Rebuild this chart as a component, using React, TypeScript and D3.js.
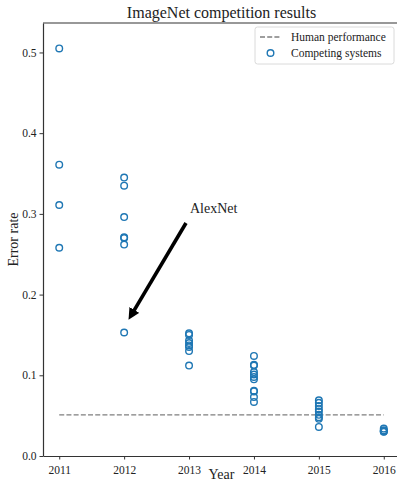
import React, { useRef, useEffect } from 'react';
import * as d3 from 'd3';

// error rates per ILSVRC year
const years = [2011, 2012, 2013, 2014, 2015, 2016];
const results2011 = [0.505, 0.361, 0.311, 0.258];
const results2012 = [0.345, 0.335, 0.296, 0.271, 0.270, 0.262, 0.153];
const results2013 = [0.152, 0.150, 0.143, 0.140, 0.137, 0.135, 0.130, 0.112];
const results2014 = [0.124, 0.113, 0.112, 0.104, 0.101, 0.098, 0.095, 0.081, 0.080, 0.073, 0.067];
const results2015 = [0.069, 0.066, 0.062, 0.058, 0.055, 0.051, 0.048, 0.046, 0.036];
const results2016 = [0.034, 0.032, 0.031, 0.0305, 0.030];
const humanError = 0.051;
const yTicks = [0.0, 0.1, 0.2, 0.3, 0.4, 0.5];
const alexNet = { year: 2012, value: 0.153 };

export default function App() {
  const svgRef = useRef<SVGSVGElement>(null);

  useEffect(() => {
    const width = 397;
    const height = 483;
    const marginTop = 23;
    const marginBottom = 27;
    const marginLeft = 43;
    const font = "Liberation Serif, serif";

    const points = [results2011, results2012, results2013, results2014, results2015, results2016]
      .flatMap((vals, i) => vals.map(v => ({ year: years[i], value: v })));

    const x = d3.scaleLinear()
      .domain([2010.75, 2016.25])
      .range([marginLeft, 400]);

    const y = d3.scaleLinear()
      .domain([0, 0.5365])
      .range([height - marginBottom, marginTop]);

    const svg = d3.select(svgRef.current)
      .attr('width', width)
      .attr('height', height)
      .attr('font-family', font)
      .style('display', 'block');
    svg.selectAll('*').remove();

    // human performance line
    svg.append('line')
      .attr('x1', x(years[0]))
      .attr('x2', x(years[years.length - 1]))
      .attr('y1', y(humanError))
      .attr('y2', y(humanError))
      .attr('stroke', '#7f7f7f')
      .attr('stroke-width', 1.3)
      .attr('stroke-dasharray', '5,2.2');

    // competing systems
    svg.append('g')
      .selectAll('circle')
      .data(points)
      .join('circle')
        .attr('cx', d => x(d.year))
        .attr('cy', d => y(d.value))
        .attr('r', 3.3)
        .attr('fill', 'none')
        .attr('stroke', '#1f77b4')
        .attr('stroke-width', 1.4);

    // axes
    const xAxis = svg.append('g')
      .attr('transform', `translate(0,${height - marginBottom})`)
      .call(d3.axisBottom(x).tickValues(years).tickFormat(d3.format('d')).tickSize(3.5).tickSizeOuter(0));
    const yAxis = svg.append('g')
      .attr('transform', `translate(${marginLeft},0)`)
      .call(d3.axisLeft(y).tickValues(yTicks).tickFormat(d3.format('.1f')).tickSize(3.5).tickSizeOuter(0));

    for (const g of [xAxis, yAxis]) {
      g.attr('font-family', font).attr('font-size', 11.5);
      g.select('.domain').attr('stroke', '#333').attr('stroke-width', 1.2);
      g.selectAll('.tick line').attr('stroke', '#333');
      g.selectAll('.tick text').attr('fill', '#222');
    }
    xAxis.selectAll('.tick text').attr('dy', '1em');

    // top spine
    svg.append('line')
      .attr('x1', marginLeft).attr('x2', 400)
      .attr('y1', marginTop).attr('y2', marginTop)
      .attr('stroke', '#333').attr('stroke-width', 1.2);

    // title + labels
    svg.append('text')
      .attr('x', (marginLeft + 400) / 2)
      .attr('y', 18)
      .attr('text-anchor', 'middle')
      .attr('font-size', 16)
      .attr('fill', '#222')
      .text('ImageNet competition results');

    svg.append('text')
      .attr('x', (marginLeft + 400) / 2)
      .attr('y', 479)
      .attr('text-anchor', 'middle')
      .attr('font-size', 14)
      .attr('fill', '#222')
      .text('Year');

    svg.append('text')
      .attr('transform', `translate(18,${(marginTop + height - marginBottom) / 2}) rotate(-90)`)
      .attr('text-anchor', 'middle')
      .attr('font-size', 14)
      .attr('fill', '#222')
      .text('Error rate');

    // AlexNet annotation
    svg.append('defs').append('marker')
      .attr('id', 'head')
      .attr('viewBox', '0 0 10 10')
      .attr('refX', 2)
      .attr('refY', 5)
      .attr('markerWidth', 3.2)
      .attr('markerHeight', 3.2)
      .attr('orient', 'auto')
      .append('path')
        .attr('d', 'M0,0 L10,5 L0,10 Z')
        .attr('fill', '#000');

    const tipX = x(alexNet.year) + 4;
    const tipY = y(alexNet.value) - 12;
    const dx = tipX - 186, dy = tipY - 223;
    const len = Math.hypot(dx, dy);
    svg.append('line')
      .attr('x1', 186).attr('y1', 223)
      .attr('x2', tipX - dx / len * 10).attr('y2', tipY - dy / len * 10)
      .attr('stroke', '#000')
      .attr('stroke-width', 3.6)
      .attr('marker-end', 'url(#head)');

    svg.append('text')
      .attr('x', 190)
      .attr('y', 213)
      .attr('font-size', 14)
      .attr('fill', '#222')
      .text('AlexNet');

    // legend
    const lg = svg.append('g').attr('transform', 'translate(255,27)');
    lg.append('rect')
      .attr('width', 139).attr('height', 37).attr('rx', 2.5)
      .attr('fill', 'white').attr('fill-opacity', 0.8)
      .attr('stroke', '#d0d0d0').attr('stroke-width', 0.8);
    lg.append('line')
      .attr('x1', 5).attr('x2', 26).attr('y1', 10).attr('y2', 10)
      .attr('stroke', '#7f7f7f').attr('stroke-width', 1.3)
      .attr('stroke-dasharray', '5,2.2');
    lg.append('circle')
      .attr('cx', 15.5).attr('cy', 26).attr('r', 3.3)
      .attr('fill', 'none').attr('stroke', '#1f77b4').attr('stroke-width', 1.4);
    lg.selectAll('text.lbl')
      .data(['Human performance', 'Competing systems'])
      .join('text')
        .attr('class', 'lbl')
        .attr('x', 36)
        .attr('y', (d, i) => 14 + i * 16)
        .attr('font-size', 11.5)
        .attr('fill', '#222')
        .text(d => d);
  }, []);

  return (
    <div style={{ position: 'absolute', left: 0, top: 0 }}>
      <svg ref={svgRef}></svg>
    </div>
  );
}
